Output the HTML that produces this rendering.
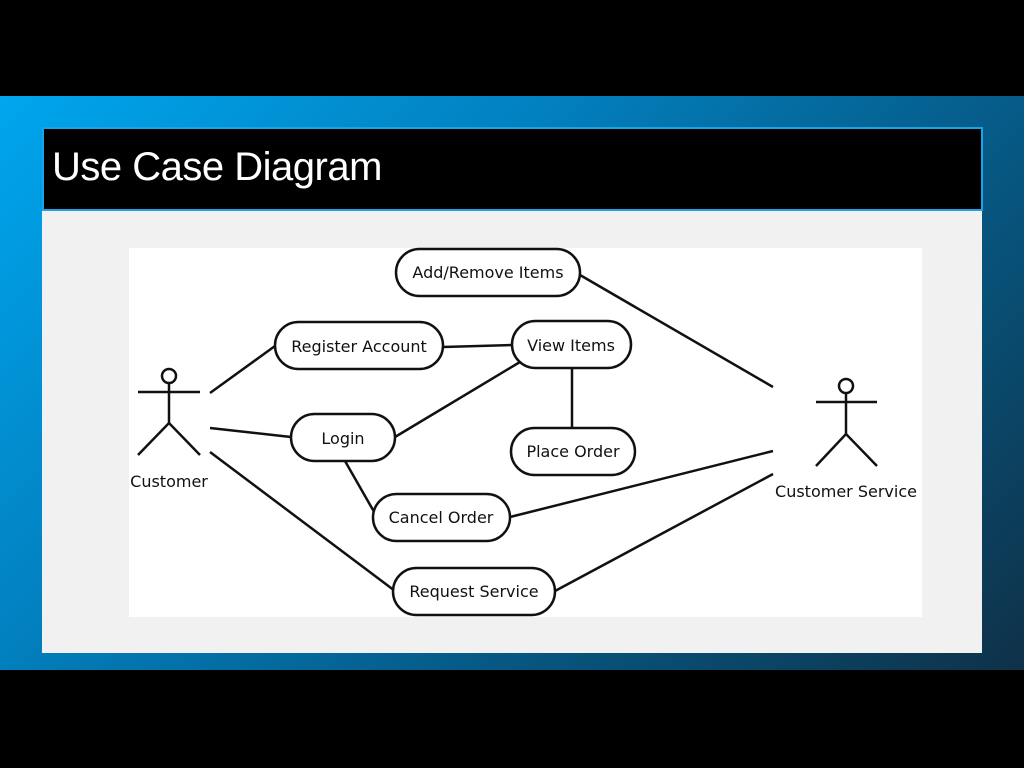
<!DOCTYPE html>
<html><head><meta charset="utf-8"><style>
html,body{margin:0;padding:0;width:1024px;height:768px;background:#000;overflow:hidden}
.band{position:absolute;left:0;top:96px;width:1024px;height:574px;background:linear-gradient(135deg,#00a6ee 0%,#0280bf 35%,#065a86 65%,#0f3148 100%)}
.title{position:absolute;left:42px;top:127px;width:937px;height:80px;background:#000;border:2px solid #1aa3e8}
.title span{position:absolute;left:8px;top:16px;color:#fff;font:40px "Liberation Sans",sans-serif;letter-spacing:-0.5px}
.panel{position:absolute;left:42px;top:211px;width:940px;height:442px;background:#f1f1f1}
.white{position:absolute;left:129px;top:248px;width:793px;height:369px;background:#fff}
svg{position:absolute;left:0;top:0}
text{font-family:"DejaVu Sans","Liberation Sans",sans-serif;font-size:16px;fill:#111}
</style></head><body>
<div class="band"></div>
<div class="title"><span>Use Case Diagram</span></div>
<div class="panel"></div>
<div class="white"></div>
<svg width="1024" height="768" viewBox="0 0 1024 768">
<g stroke="#111" stroke-width="2.5" fill="none">
<line x1="210" y1="393" x2="275" y2="346"/>
<line x1="210" y1="428" x2="291" y2="437"/>
<line x1="210" y1="452" x2="395" y2="591"/>
<line x1="443" y1="347" x2="512" y2="345"/>
<line x1="395" y1="437" x2="520" y2="362"/>
<line x1="572" y1="368" x2="572" y2="428"/>
<line x1="345" y1="461" x2="377" y2="517"/>
<line x1="510" y1="517" x2="773" y2="451"/>
<line x1="555" y1="591" x2="773" y2="474"/>
<line x1="580" y1="275" x2="773" y2="387"/>
<g fill="#fff">
<rect x="396" y="249" width="184" height="47" rx="23.5"/>
<rect x="275" y="322" width="168" height="47" rx="23.5"/>
<rect x="512" y="321" width="119" height="47" rx="23.5"/>
<rect x="291" y="414" width="104" height="47" rx="23.5"/>
<rect x="511" y="428" width="124" height="47" rx="23.5"/>
<rect x="373" y="494" width="137" height="47" rx="23.5"/>
<rect x="393" y="568" width="162" height="47" rx="23.5"/>
</g>
<circle cx="169" cy="376" r="7"/>
<line x1="138" y1="392" x2="200" y2="392"/>
<line x1="169" y1="383" x2="169" y2="423"/>
<polyline points="138,455 169,423 200,455"/>
<circle cx="846" cy="386" r="7"/>
<line x1="816" y1="402" x2="877" y2="402"/>
<line x1="846" y1="393" x2="846" y2="434"/>
<polyline points="816,466 846,434 877,466"/>
</g>
<g text-anchor="middle">
<text x="488" y="278">Add/Remove Items</text>
<text x="359" y="352">Register Account</text>
<text x="571" y="351">View Items</text>
<text x="343" y="444">Login</text>
<text x="573" y="457">Place Order</text>
<text x="441" y="523">Cancel Order</text>
<text x="474" y="597">Request Service</text>
<text x="169" y="487">Customer</text>
<text x="846" y="497">Customer Service</text>
</g>
</svg>
</body></html>
